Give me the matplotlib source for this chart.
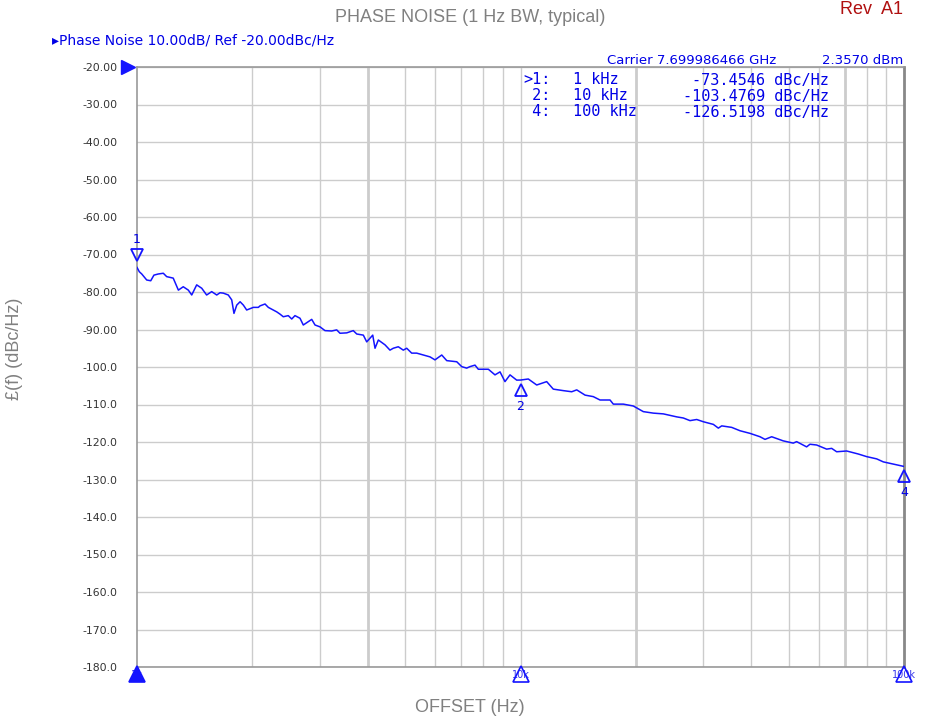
import matplotlib
matplotlib.use("Agg")
import matplotlib.pyplot as plt
import matplotlib.transforms as mtransforms
import numpy as np

# ---------------- data ----------------
freq_hz = [1000, 1014, 1029, 1060, 1086, 1107, 1136, 1171, 1195, 1243, 1282, 1320, 1361, 1389,
           1431, 1475, 1519, 1566, 1614, 1646, 1679, 1730, 1766, 1790, 1820, 1857, 1894, 1932,
           2011, 2072, 2093, 2157, 2200, 2314, 2360, 2407, 2480, 2532, 2582, 2661, 2714, 2797,
           2855, 2912, 3001, 3092, 3219, 3317, 3383, 3523, 3664, 3741, 3892, 3972, 4052, 4118,
           4175, 4259, 4434, 4567, 4659, 4801, 4947, 5050, 5203, 5362, 5579, 5808, 5984, 6232,
           6422, 6820, 7026, 7238, 7384, 7609, 7762, 8245, 8580, 8843, 9111, 9389, 9774, 10000,
           10481, 11022, 11703, 12176, 12930, 13600, 14016, 14737, 15480, 16117, 17118, 17459,
           18540, 19684, 20903, 22199, 23573, 25551, 26584, 27669, 28807, 29983, 31828, 32801,
           33473, 35535, 37363, 39677, 42124, 43406, 45186, 48431, 51432, 52486, 55727, 56856,
           59182, 62850, 64773, 66742, 70891, 75989, 79924, 84866, 88308, 93784, 100000]
noise_dbc = [-73.45, -74.6, -75.2, -76.8, -77.0, -75.5, -75.2, -75.0, -75.9, -76.3, -79.5, -78.6,
             -79.5, -80.8, -78.1, -79.0, -80.8, -79.9, -80.8, -80.2, -80.3, -80.8, -82.1, -85.7,
             -83.5, -82.6, -83.5, -84.8, -84.1, -84.1, -83.7, -83.2, -84.1, -85.3, -85.9, -86.6,
             -86.3, -87.2, -86.3, -87.0, -88.8, -87.9, -87.3, -88.8, -89.3, -90.3, -90.4, -90.1,
             -91.0, -90.9, -90.3, -91.2, -91.5, -93.3, -92.3, -91.5, -95.0, -92.8, -94.1, -95.5,
             -95.0, -94.6, -95.5, -95.0, -96.3, -96.3, -96.8, -97.3, -98.1, -96.8, -98.3, -98.6,
             -99.9, -100.3, -99.9, -99.5, -100.6, -100.6, -102.1, -101.3, -103.9, -102.1, -103.5,
             -103.48, -103.2, -104.8, -103.9, -105.9, -106.3, -106.6, -106.1, -107.5, -107.9,
             -108.8, -108.8, -109.9, -109.9, -110.4, -111.9, -112.3, -112.5, -113.3, -113.6,
             -114.3, -114.0, -114.6, -115.3, -116.3, -115.7, -116.1, -117.0, -117.7, -118.6,
             -119.3, -118.6, -119.7, -120.3, -119.9, -121.3, -120.6, -120.8, -121.9, -121.7,
             -122.6, -122.4, -123.2, -123.9, -124.5, -125.3, -125.9, -126.52]

marker_ids = ["1", "2", "4"]
marker_freq = [1000, 10000, 100000]
marker_val = [-73.4546, -103.4769, -126.5198]
marker_freq_lbl = ["1 kHz", "10 kHz", "100 kHz"]
marker_val_lbl = ["-73.4546 dBc/Hz", "-103.4769 dBc/Hz", "-126.5198 dBc/Hz"]

y_ticks = [-20, -30, -40, -50, -60, -70, -80, -90, -100, -110, -120, -130, -140, -150,
           -160, -170, -180]
y_tick_labels = ["-20.00", "-30.00", "-40.00", "-50.00", "-60.00", "-70.00", "-80.00",
                 "-90.00", "-100.0", "-110.0", "-120.0", "-130.0", "-140.0", "-150.0",
                 "-160.0", "-170.0", "-180.0"]
x_grid = [2000, 3000, 4000, 5000, 6000, 7000, 8000, 9000, 10000,
          20000, 30000, 40000, 50000, 60000, 70000, 80000, 90000]
x_grid_bold = [4000, 20000, 70000]
x_bottom_marks = [1000, 10000, 100000]
x_bottom_lbls = ["1k", "10k", "100k"]

BLUE = "#1414ff"
TXT_BLUE = "#0000e6"
GRAY = "#808080"

# ---------------- figure ----------------
fig = plt.figure(figsize=(9.27, 7.24), dpi=100)
ax = fig.add_axes([137 / 927, 1 - 667 / 724, (904 - 137) / 927, (667 - 67) / 724])
ax.set_xscale("log")
ax.set_xlim(1000, 100000)
ax.set_ylim(-180, -20)

# grid
for yv in y_ticks:
    ax.axhline(yv, color="#cccccc", lw=1.0, zorder=1)
for xv in x_grid:
    lw = 2.0 if xv in x_grid_bold else 1.0
    ax.axvline(xv, color="#cccccc", lw=lw, zorder=1)

for side in ["left", "top", "bottom"]:
    ax.spines[side].set_color("#999999")
    ax.spines[side].set_linewidth(1.2)
ax.spines["right"].set_color("#888888")
ax.spines["right"].set_linewidth(2.0)

ax.set_yticks(y_ticks)
ax.set_yticklabels(y_tick_labels, fontsize=7.8, color="#333333")
ax.tick_params(axis="y", length=0, pad=14)
ax.set_xticks([])
ax.xaxis.set_minor_locator(matplotlib.ticker.NullLocator())

# trace
ax.plot(freq_hz, noise_dbc, color=BLUE, lw=1.1, zorder=3)

# trace markers
down = mtransforms.offset_copy(ax.transData, fig=fig, x=0, y=-7, units="points")
up = mtransforms.offset_copy(ax.transData, fig=fig, x=0, y=9, units="points")
for mid, mf, mv in zip(marker_ids, marker_freq, marker_val):
    if mid == "1":
        ax.plot([mf], [mv], marker="v", ms=8, mfc="none", mec=BLUE, mew=1.3,
                transform=up, clip_on=False, zorder=4)
        ax.annotate(mid, (mf, mv), xytext=(0, 20), textcoords="offset points",
                    ha="center", va="center", color=TXT_BLUE, fontsize=9, annotation_clip=False)
    else:
        ax.plot([mf], [mv], marker="^", ms=8, mfc="none", mec=BLUE, mew=1.3,
                transform=down, clip_on=False, zorder=4)
        ax.annotate(mid, (mf, mv), xytext=(0, -19), textcoords="offset points",
                    ha="center", va="center", color=TXT_BLUE, fontsize=9, annotation_clip=False)

# reference level marker (left, top)
ax.plot([-0.012], [-20], marker=">", ms=10, color=BLUE,
        transform=mtransforms.blended_transform_factory(ax.transAxes, ax.transData),
        clip_on=False, zorder=5)

# bottom frequency markers
bt = mtransforms.blended_transform_factory(ax.transData, ax.transAxes)
for i, (bx, bl) in enumerate(zip(x_bottom_marks, x_bottom_lbls)):
    filled = (i == 0)
    ax.plot([bx], [-0.012], marker="^", ms=11, transform=bt, clip_on=False,
            mfc=BLUE if filled else "none", mec=BLUE, mew=1.2, zorder=5)
    ax.text(bx, -0.013, bl, transform=bt, ha="center", va="center", fontsize=7,
            color=TXT_BLUE, alpha=0.8)

# header texts
fig.text(52 / 927, 1 - 41 / 724, "\u25b8Phase Noise 10.00dB/ Ref -20.00dBc/Hz",
         fontsize=10, color=TXT_BLUE, ha="left", va="center")
fig.text(607 / 927, 1 - 61 / 724, "Carrier 7.699986466 GHz", fontsize=9.5,
         color=TXT_BLUE, ha="left", va="center")
fig.text(903 / 927, 1 - 61 / 724, "2.3570 dBm", fontsize=9.5, color=TXT_BLUE,
         ha="right", va="center")

row_y = [80, 96, 112]
for i, (mid, fl, vl) in enumerate(zip(marker_ids, marker_freq_lbl, marker_val_lbl)):
    yy = 1 - row_y[i] / 724
    lab = (">" if i == 0 else " ") + mid + ":"
    fig.text(523 / 927, yy, lab, fontsize=11, color=TXT_BLUE, ha="left", va="center",
             family="DejaVu Sans Mono")
    fig.text(573 / 927, yy, fl, fontsize=11, color=TXT_BLUE, ha="left", va="center",
             family="DejaVu Sans Mono")
    fig.text(829 / 927, yy, vl, fontsize=11, color=TXT_BLUE, ha="right", va="center",
             family="DejaVu Sans Mono")

# titles and labels
fig.text(470 / 927, 1 - 17 / 724, "PHASE NOISE (1 Hz BW, typical)", fontsize=13,
         color=GRAY, ha="center", va="center", family="Liberation Sans")
fig.text(872 / 927, 1 - 9 / 724, "Rev  A1", fontsize=13, color="#b01010",
         ha="center", va="center", family="Liberation Sans")
fig.text(470 / 927, 1 - 708 / 724, "OFFSET (Hz)", fontsize=13, color=GRAY,
         ha="center", va="center", family="Liberation Sans")
fig.text(15 / 927, 1 - 349 / 724, "\u00a3(f) (dBc/Hz)", fontsize=13, color=GRAY,
         ha="center", va="center", rotation=90, family="Liberation Sans")

fig.savefig("out.png", dpi=100)
